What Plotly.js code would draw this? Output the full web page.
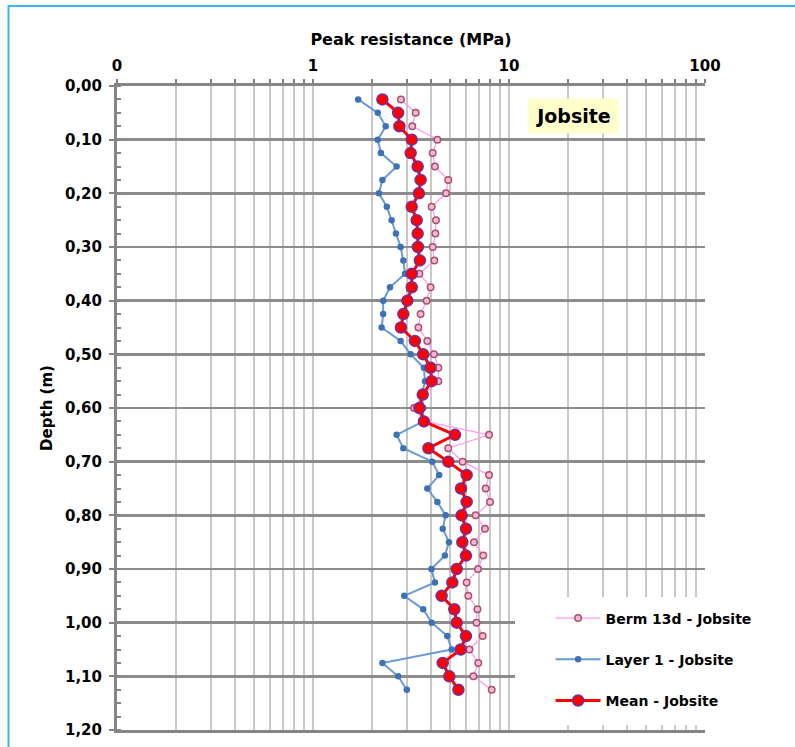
<!DOCTYPE html>
<html>
<head>
<meta charset="utf-8">
<script src="https://cdn.plot.ly/plotly-3.0.1.min.js"></script>
<style>
  html, body { margin: 0; padding: 0; background: #ffffff; }
  #chart { width: 795px; height: 747px; }
</style>
</head>
<body>
<div id="chart"></div>
<script>
// Depth (m) of each reading
const depth = [
  0.025, 0.050, 0.075, 0.100, 0.125, 0.150, 0.175, 0.200, 0.225, 0.250, 0.275, 0.300,
  0.325, 0.350, 0.375, 0.400, 0.425, 0.450, 0.475, 0.500, 0.525, 0.550, 0.575, 0.600,
  0.625, 0.650, 0.675, 0.700, 0.725, 0.750, 0.775, 0.800, 0.825, 0.850, 0.875, 0.900,
  0.925, 0.950, 0.975, 1.000, 1.025, 1.050, 1.075, 1.100, 1.125
];

// Peak resistance (MPa)
const berm13d = [
  2.81, 3.34, 3.21, 4.31, 4.08, 4.19, 4.90, 4.77, 4.03, 4.24, 4.21, 4.08,
  4.16, 3.49, 3.98, 3.80, 3.54, 3.45, 3.83, 4.14, 4.36, 4.36, 3.67, 3.28,
  3.71, 7.91, 4.90, 5.80, 7.91, 7.60, 8.00, 6.76, 7.54, 6.63, 7.39, 6.95,
  6.08, 6.20, 6.90, 6.83, 7.34, 6.28, 6.97, 6.58, 8.16
];

const layer1 = [
  1.70, 2.14, 2.35, 2.14, 2.22, 2.67, 2.26, 2.17, 2.38, 2.52, 2.65, 2.80,
  2.89, 2.95, 2.47, 2.28, 2.28, 2.24, 2.80, 3.15, 3.68, 3.73, 3.59, 3.65,
  3.65, 2.67, 2.89, 4.06, 4.40, 3.83, 4.31, 4.75, 4.59, 4.94, 4.71, 4.02,
  4.19, 2.92, 3.65, 4.03, 4.84, 5.10, 2.26, 2.72, 3.01
];

const meanVals = [
  2.26, 2.72, 2.76, 3.19, 3.15, 3.42, 3.54, 3.47, 3.19, 3.38, 3.42, 3.43,
  3.51, 3.19, 3.19, 3.03, 2.89, 2.81, 3.31, 3.65, 3.98, 4.03, 3.63, 3.49,
  3.68, 5.30, 3.88, 4.90, 6.08, 5.69, 6.08, 5.73, 6.03, 5.78, 6.03, 5.41,
  5.14, 4.53, 5.26, 5.41, 6.03, 5.67, 4.59, 4.96, 5.52
];

const seriesNames = ["Berm 13d - Jobsite", "Layer 1 - Jobsite", "Mean - Jobsite"];

// Log-axis tick positions (1..9 per decade) and labels (only decades labelled)
const xTickVals = [0.1,0.2,0.3,0.4,0.5,0.6,0.7,0.8,0.9,
                   1,2,3,4,5,6,7,8,9,
                   10,20,30,40,50,60,70,80,90,100];
const xTickText = xTickVals.map(v => (v === 0.1 ? "0" : (v === 1 || v === 10 || v === 100) ? String(v) : ""));

const FONT = "DejaVu Sans, Arial, sans-serif";

const traces = [
  {
    x: berm13d, y: depth, name: seriesNames[0], legendgroup: "a",
    type: "scatter", mode: "lines+markers",
    line: { color: "#ff9cf0", width: 1.3 },
    marker: { symbol: "circle", size: 6.5, color: "#f6b8d4", line: { color: "#a8506e", width: 1.5 } }
  },
  {
    x: layer1, y: depth, name: seriesNames[1], legendgroup: "b",
    type: "scatter", mode: "lines+markers",
    line: { color: "#6a9ad6", width: 2 },
    marker: { symbol: "circle", size: 6.5, color: "#3e72b6", line: { width: 0 } }
  },
  {
    x: meanVals, y: depth, name: seriesNames[2], legendgroup: "c",
    type: "scatter", mode: "lines+markers",
    line: { color: "#ff0000", width: 3 },
    marker: { symbol: "circle", size: 11, color: "#ff0000", line: { color: "#7030a0", width: 1.5 } }
  }
];

const layout = {
  width: 795, height: 747,
  margin: { l: 117, r: 90, t: 86, b: 17 },
  paper_bgcolor: "#ffffff", plot_bgcolor: "#ffffff",
  separators: ", ",
  font: { family: FONT, color: "#000000" },
  showlegend: true,
  xaxis: {
    type: "log", side: "top", range: [-1, 2],
    tickmode: "array", tickvals: xTickVals, ticktext: xTickText,
    ticks: "outside", ticklen: 4, tickwidth: 2, tickcolor: "#808080",
    ticklabelstandoff: 2,
    tickfont: { family: FONT, size: 15, color: "#000", weight: "bold" },
    showgrid: true, gridcolor: "#c8c8c8", gridwidth: 2,
    showline: true, linecolor: "#858585", linewidth: 3, mirror: true,
    zeroline: false,
    title: { text: "Peak resistance (MPa)", standoff: 8,
             font: { family: FONT, size: 16, color: "#000", weight: "bold" } }
  },
  yaxis: {
    range: [1.2, 0], autorange: false,
    tick0: 0, dtick: 0.1, tickformat: ".2f",
    ticks: "outside", ticklen: 5, tickwidth: 2, tickcolor: "#858585",
    ticklabelstandoff: 4,
    tickfont: { family: FONT, size: 15, color: "#000", weight: "bold" },
    showgrid: true, gridcolor: "#8c8c8c", gridwidth: 2.7,
    showline: true, linecolor: "#858585", linewidth: 3, mirror: false,
    zeroline: false,
    minor: { dtick: 0.025, tick0: 0, ticks: "inside", ticklen: 4, tickwidth: 2, tickcolor: "#858585", showgrid: false },
    title: { text: "Depth (m)", standoff: 9,
             font: { family: FONT, size: 15, color: "#000", weight: "bold" } }
  },
  legend: {
    x: 0.7374, y: 0.198, xanchor: "left", yanchor: "top",
    bgcolor: "rgba(0,0,0,0)", borderwidth: 0,
    tracegroupgap: 20, itemwidth: 45,
    font: { family: FONT, size: 14, color: "#000", weight: "bold" }
  },
  shapes: [
    // white legend area covering the grid
    { type: "rect", xref: "paper", yref: "paper", layer: "above",
      x0: 0.6769, x1: 1.15, y0: 0.0078, y1: 0.2065,
      fillcolor: "#ffffff", line: { width: 0 } },
    // outer frame
    { type: "rect", xref: "paper", yref: "paper", layer: "above",
      x0: -0.1845, x1: 1.17, y0: -0.06, y1: 1.1242,
      fillcolor: "rgba(0,0,0,0)", line: { color: "#3fb5ea", width: 2 } }
  ],
  annotations: [
    { text: "<b>Jobsite</b>", xref: "paper", yref: "paper",
      x: 0.7755, y: 0.9534, xanchor: "center", yanchor: "middle",
      showarrow: false, bgcolor: "#ffffcc", width: 88, height: 32,
      font: { family: FONT, size: 19, color: "#000" } }
  ]
};

Plotly.newPlot("chart", traces, layout, { displayModeBar: false, staticPlot: true });
</script>
</body>
</html>
